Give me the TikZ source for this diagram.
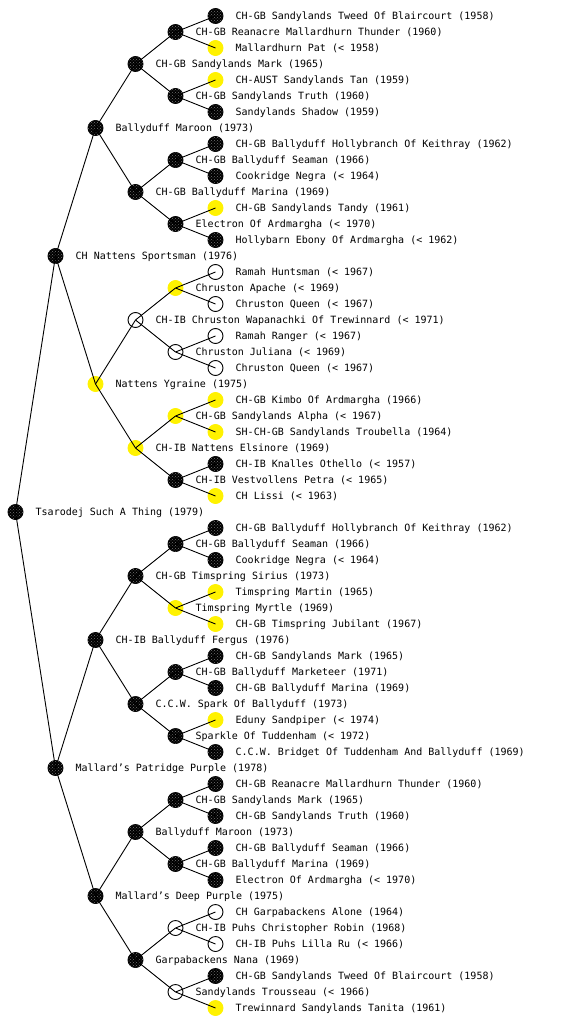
\documentclass[tikz,border=0pt]{standalone}
\usepackage{fontspec}
\setmonofont{DejaVu Sans Mono}
\usetikzlibrary{patterns}
\tikzset{
  dot/.style={circle, minimum size=15pt, inner sep=0pt, line width=0.9pt},
  blk/.style={dot, draw=black, fill=black, postaction={pattern=crosshatch dots, pattern color=black!55}},
  yel/.style={dot, fill=yellow, draw=yellow},
  wht/.style={dot, draw=black},
  lbl/.style={anchor=base west, inner sep=0pt, font=\ttfamily\fontsize{10}{12}\selectfont},
  edge/.style={draw=black, line width=0.9pt}
}
\newcommand\pn[5]{\node[#2] (#1) at (#3,#4) {};\node[lbl] (#1t) at (#3+20,#4+3.6) {#5};}
\begin{document}
\begin{tikzpicture}[x=1pt,y=-1pt]
\useasboundingbox (0,0) rectangle (560,1024);
\pn{n}{blk}{15.5}{512}{Tsarodej Such A Thing (1979)}
\pn{na}{blk}{55.5}{256}{CH Nattens Sportsman (1976)}
\pn{nb}{blk}{55.5}{768}{Mallard’s Patridge Purple (1978)}
\pn{naa}{blk}{95.5}{128}{Ballyduff Maroon (1973)}
\pn{nab}{yel}{95.5}{384}{Nattens Ygraine (1975)}
\pn{nba}{blk}{95.5}{640}{CH-IB Ballyduff Fergus (1976)}
\pn{nbb}{blk}{95.5}{896}{Mallard’s Deep Purple (1975)}
\pn{naaa}{blk}{135.5}{64}{CH-GB Sandylands Mark (1965)}
\pn{naab}{blk}{135.5}{192}{CH-GB Ballyduff Marina (1969)}
\pn{naba}{wht}{135.5}{320}{CH-IB Chruston Wapanachki Of Trewinnard (< 1971)}
\pn{nabb}{yel}{135.5}{448}{CH-IB Nattens Elsinore (1969)}
\pn{nbaa}{blk}{135.5}{576}{CH-GB Timspring Sirius (1973)}
\pn{nbab}{blk}{135.5}{704}{C.C.W. Spark Of Ballyduff (1973)}
\pn{nbba}{blk}{135.5}{832}{Ballyduff Maroon (1973)}
\pn{nbbb}{blk}{135.5}{960}{Garpabackens Nana (1969)}
\pn{naaaa}{blk}{175.5}{32}{CH-GB Reanacre Mallardhurn Thunder (1960)}
\pn{naaab}{blk}{175.5}{96}{CH-GB Sandylands Truth (1960)}
\pn{naaba}{blk}{175.5}{160}{CH-GB Ballyduff Seaman (1966)}
\pn{naabb}{blk}{175.5}{224}{Electron Of Ardmargha (< 1970)}
\pn{nabaa}{yel}{175.5}{288}{Chruston Apache (< 1969)}
\pn{nabab}{wht}{175.5}{352}{Chruston Juliana (< 1969)}
\pn{nabba}{yel}{175.5}{416}{CH-GB Sandylands Alpha (< 1967)}
\pn{nabbb}{blk}{175.5}{480}{CH-IB Vestvollens Petra (< 1965)}
\pn{nbaaa}{blk}{175.5}{544}{CH-GB Ballyduff Seaman (1966)}
\pn{nbaab}{yel}{175.5}{608}{Timspring Myrtle (1969)}
\pn{nbaba}{blk}{175.5}{672}{CH-GB Ballyduff Marketeer (1971)}
\pn{nbabb}{blk}{175.5}{736}{Sparkle Of Tuddenham (< 1972)}
\pn{nbbaa}{blk}{175.5}{800}{CH-GB Sandylands Mark (1965)}
\pn{nbbab}{blk}{175.5}{864}{CH-GB Ballyduff Marina (1969)}
\pn{nbbba}{wht}{175.5}{928}{CH-IB Puhs Christopher Robin (1968)}
\pn{nbbbb}{wht}{175.5}{992}{Sandylands Trousseau (< 1966)}
\pn{naaaaa}{blk}{215.5}{16}{CH-GB Sandylands Tweed Of Blaircourt (1958)}
\pn{naaaab}{yel}{215.5}{48}{Mallardhurn Pat (< 1958)}
\pn{naaaba}{yel}{215.5}{80}{CH-AUST Sandylands Tan (1959)}
\pn{naaabb}{blk}{215.5}{112}{Sandylands Shadow (1959)}
\pn{naabaa}{blk}{215.5}{144}{CH-GB Ballyduff Hollybranch Of Keithray (1962)}
\pn{naabab}{blk}{215.5}{176}{Cookridge Negra (< 1964)}
\pn{naabba}{yel}{215.5}{208}{CH-GB Sandylands Tandy (1961)}
\pn{naabbb}{blk}{215.5}{240}{Hollybarn Ebony Of Ardmargha (< 1962)}
\pn{nabaaa}{wht}{215.5}{272}{Ramah Huntsman (< 1967)}
\pn{nabaab}{wht}{215.5}{304}{Chruston Queen (< 1967)}
\pn{nababa}{wht}{215.5}{336}{Ramah Ranger (< 1967)}
\pn{nababb}{wht}{215.5}{368}{Chruston Queen (< 1967)}
\pn{nabbaa}{yel}{215.5}{400}{CH-GB Kimbo Of Ardmargha (1966)}
\pn{nabbab}{yel}{215.5}{432}{SH-CH-GB Sandylands Troubella (1964)}
\pn{nabbba}{blk}{215.5}{464}{CH-IB Knalles Othello (< 1957)}
\pn{nabbbb}{yel}{215.5}{496}{CH Lissi (< 1963)}
\pn{nbaaaa}{blk}{215.5}{528}{CH-GB Ballyduff Hollybranch Of Keithray (1962)}
\pn{nbaaab}{blk}{215.5}{560}{Cookridge Negra (< 1964)}
\pn{nbaaba}{yel}{215.5}{592}{Timspring Martin (1965)}
\pn{nbaabb}{yel}{215.5}{624}{CH-GB Timspring Jubilant (1967)}
\pn{nbabaa}{blk}{215.5}{656}{CH-GB Sandylands Mark (1965)}
\pn{nbabab}{blk}{215.5}{688}{CH-GB Ballyduff Marina (1969)}
\pn{nbabba}{yel}{215.5}{720}{Eduny Sandpiper (< 1974)}
\pn{nbabbb}{blk}{215.5}{752}{C.C.W. Bridget Of Tuddenham And Ballyduff (1969)}
\pn{nbbaaa}{blk}{215.5}{784}{CH-GB Reanacre Mallardhurn Thunder (1960)}
\pn{nbbaab}{blk}{215.5}{816}{CH-GB Sandylands Truth (1960)}
\pn{nbbaba}{blk}{215.5}{848}{CH-GB Ballyduff Seaman (1966)}
\pn{nbbabb}{blk}{215.5}{880}{Electron Of Ardmargha (< 1970)}
\pn{nbbbaa}{wht}{215.5}{912}{CH Garpabackens Alone (1964)}
\pn{nbbbab}{wht}{215.5}{944}{CH-IB Puhs Lilla Ru (< 1966)}
\pn{nbbbba}{blk}{215.5}{976}{CH-GB Sandylands Tweed Of Blaircourt (1958)}
\pn{nbbbbb}{yel}{215.5}{1008}{Trewinnard Sandylands Tanita (1961)}
\foreach \p in {n,na,nb,naa,nab,nba,nbb,naaa,naab,naba,nabb,nbaa,nbab,nbba,nbbb,
  naaaa,naaab,naaba,naabb,nabaa,nabab,nabba,nabbb,nbaaa,nbaab,nbaba,nbabb,nbbaa,nbbab,nbbba,nbbbb}
  \draw[edge] (\p.center) -- ({\p a}.center) (\p.center) -- ({\p b}.center);
\end{tikzpicture}
\end{document}
